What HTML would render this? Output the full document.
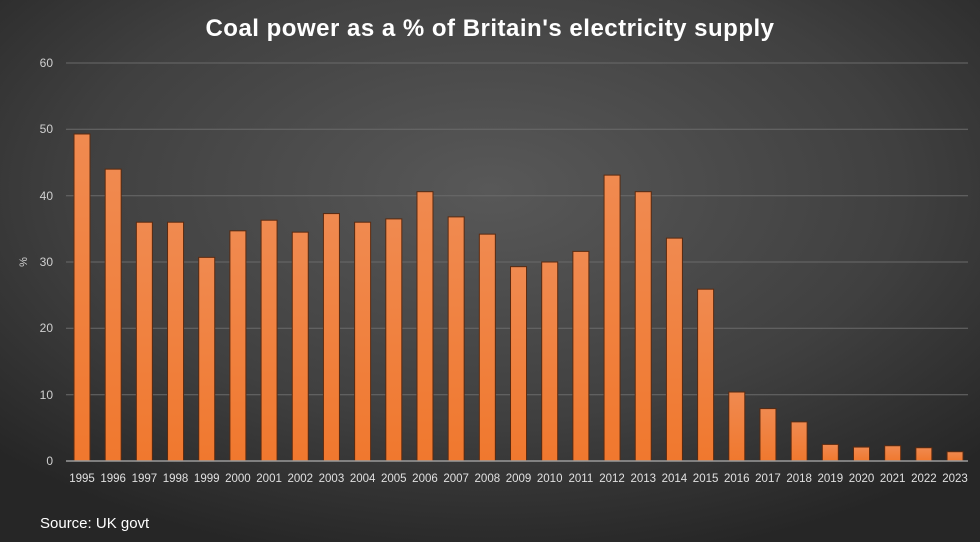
<!DOCTYPE html>
<html><head><meta charset="utf-8"><style>
body{margin:0;width:980px;height:542px;overflow:hidden;background:#333}
svg{display:block}
text{font-family:"Liberation Sans",sans-serif}
</style></head><body>
<svg width="980" height="542" viewBox="0 0 980 542" xmlns="http://www.w3.org/2000/svg">
<defs>
<radialGradient id="bg" cx="50%" cy="35%" r="70%">
<stop offset="0" stop-color="#585858"/><stop offset="0.6" stop-color="#404040"/><stop offset="1" stop-color="#262626"/>
</radialGradient>
<linearGradient id="bar" x1="0" y1="0" x2="0" y2="1">
<stop offset="0" stop-color="#f08a50"/><stop offset="1" stop-color="#f0782e"/>
</linearGradient>
</defs>
<rect width="980" height="542" fill="url(#bg)"/>
<text x="490" y="36" text-anchor="middle" fill="#fff" font-size="24" font-weight="bold" letter-spacing="0.5">Coal power as a % of Britain's electricity supply</text>
<g stroke="#6a6a6a" stroke-width="1">
<line x1="66" x2="968" y1="63" y2="63"/><line x1="66" x2="968" y1="129.3" y2="129.3"/>
<line x1="66" x2="968" y1="195.7" y2="195.7"/><line x1="66" x2="968" y1="262" y2="262"/>
<line x1="66" x2="968" y1="328.3" y2="328.3"/><line x1="66" x2="968" y1="394.7" y2="394.7"/>
</g>
<g fill="#d0d0d0" font-size="12" text-anchor="end">
<text x="53" y="67">60</text><text x="53" y="133">50</text><text x="53" y="200">40</text>
<text x="53" y="266">30</text><text x="53" y="332">20</text><text x="53" y="399">10</text><text x="53" y="465">0</text>
</g>
<text x="27" y="262" fill="#d0d0d0" font-size="11" text-anchor="middle" transform="rotate(-90 27 262)">%</text>
<g id="bars" fill="url(#bar)" stroke="#5a2a10" stroke-width="1"></g>
<line x1="66" x2="968" y1="461" y2="461" stroke="#9a9a9a" stroke-width="1.5"/>
<g id="labels" fill="#e0e0e0" font-size="11.5" text-anchor="middle"></g>
<text x="40" y="528" fill="#fff" font-size="15">Source: UK govt</text>
</svg>
<script>
var v=[49.3,44,36,36,30.7,34.7,36.3,34.5,37.3,36,36.5,40.6,36.8,34.2,29.3,30,31.6,43.1,40.6,33.6,25.9,10.4,7.9,5.9,2.5,2.1,2.3,2,1.4];
var ns="http://www.w3.org/2000/svg",b=document.getElementById("bars"),l=document.getElementById("labels");
v.forEach(function(d,i){var c=82+i*31.18,h=d*6.633;
var r=document.createElementNS(ns,"rect");r.setAttribute("x",c-8);r.setAttribute("y",461-h);r.setAttribute("width",16);r.setAttribute("height",h);b.appendChild(r);
var t=document.createElementNS(ns,"text");t.setAttribute("x",c);t.setAttribute("y",482);t.textContent=1995+i;l.appendChild(t);});
</script>
</body></html>
